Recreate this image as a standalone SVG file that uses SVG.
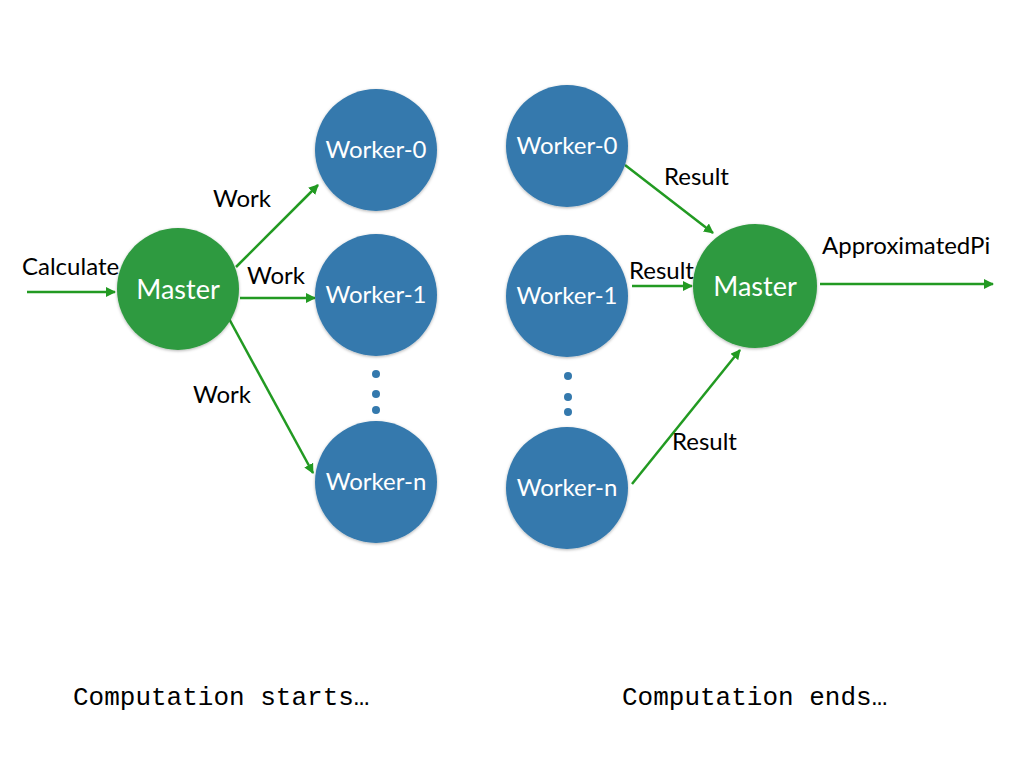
<svg xmlns="http://www.w3.org/2000/svg" width="1024" height="768" viewBox="0 0 1024 768">
<style>
.bg{fill:#ffffff}
.worker{fill:#3479ad}
.master{fill:#2f9a3f}
.ntext{font-family:Lato,"Open Sans","Liberation Sans",sans-serif;font-size:24px;fill:#ffffff;text-anchor:middle}
.mtext{font-family:Lato,"Open Sans","Liberation Sans",sans-serif;font-size:27px;fill:#ffffff;text-anchor:middle}
.ltext{font-family:Lato,"Open Sans","Liberation Sans",sans-serif;font-size:24px;fill:#000000}
.mono{font-family:"Liberation Mono","DejaVu Sans Mono",monospace;font-size:26px;fill:#000000}
.conn{stroke:#229a22;stroke-width:2.5;fill:none;marker-end:url(#arr)}
.dot{fill:#3479ad}
</style>
<defs>
<marker id="arr" markerWidth="10" markerHeight="10" refX="9" refY="5" orient="auto" markerUnits="userSpaceOnUse" viewBox="0 0 10 10">
<path d="M0,0 L10,5 L0,10 z" fill="#229a22"/>
</marker>
<filter id="sh" x="-20%" y="-20%" width="140%" height="140%">
<feDropShadow dx="0" dy="1" stdDeviation="1.5" flood-color="#000" flood-opacity="0.3"/>
</filter>
</defs>
<rect class="bg" x="0" y="0" width="1024" height="768"/>
<g id="connectors">
<line class="conn" x1="27" y1="292" x2="115" y2="292"/>
<line class="conn" x1="236" y1="267" x2="318" y2="185"/>
<line class="conn" x1="240" y1="298" x2="315" y2="298"/>
<line class="conn" x1="227" y1="315" x2="313" y2="473"/>
<line class="conn" x1="625" y1="165" x2="713" y2="233"/>
<line class="conn" x1="632" y1="286" x2="692" y2="286"/>
<line class="conn" x1="632" y1="484" x2="740" y2="350"/>
<line class="conn" x1="820" y1="284" x2="993" y2="284"/>
</g>
<g id="labels">
<text class="ltext" x="22" y="275">Calculate</text>
<text class="ltext" x="213" y="207">Work</text>
<text class="ltext" x="247" y="284">Work</text>
<text class="ltext" x="193" y="403">Work</text>
<text class="ltext" x="664" y="185">Result</text>
<text class="ltext" x="629" y="279">Result</text>
<text class="ltext" x="672" y="450">Result</text>
<text class="ltext" x="822" y="254">ApproximatedPi</text>
</g>
<g id="master-left">
<circle class="master" cx="178" cy="289" r="61" filter="url(#sh)"/>
<text class="mtext" x="178" y="299">Master</text>
</g>
<g id="worker0-left">
<circle class="worker" cx="376" cy="150" r="61" filter="url(#sh)"/>
<text class="ntext" x="376" y="158">Worker-0</text>
</g>
<g id="worker1-left">
<circle class="worker" cx="376" cy="295" r="61" filter="url(#sh)"/>
<text class="ntext" x="376" y="303">Worker-1</text>
</g>
<g id="dots-left">
<circle class="dot" cx="376" cy="374" r="4"/>
<circle class="dot" cx="376" cy="394" r="4"/>
<circle class="dot" cx="376" cy="410" r="4"/>
</g>
<g id="workern-left">
<circle class="worker" cx="376" cy="482" r="61" filter="url(#sh)"/>
<text class="ntext" x="376" y="490">Worker-n</text>
</g>
<g id="worker0-right">
<circle class="worker" cx="567" cy="146" r="61" filter="url(#sh)"/>
<text class="ntext" x="567" y="154">Worker-0</text>
</g>
<g id="worker1-right">
<circle class="worker" cx="567" cy="296" r="61" filter="url(#sh)"/>
<text class="ntext" x="567" y="304">Worker-1</text>
</g>
<g id="dots-right">
<circle class="dot" cx="568" cy="376" r="4"/>
<circle class="dot" cx="568" cy="397" r="4"/>
<circle class="dot" cx="568" cy="412" r="4"/>
</g>
<g id="workern-right">
<circle class="worker" cx="567" cy="488" r="61" filter="url(#sh)"/>
<text class="ntext" x="567" y="496">Worker-n</text>
</g>
<g id="master-right">
<circle class="master" cx="755" cy="286" r="62" filter="url(#sh)"/>
<text class="mtext" x="755" y="296">Master</text>
</g>
<g id="captions">
<text class="mono" x="73" y="705">Computation starts…</text>
<text class="mono" x="622" y="705">Computation ends…</text>
</g>
</svg>
